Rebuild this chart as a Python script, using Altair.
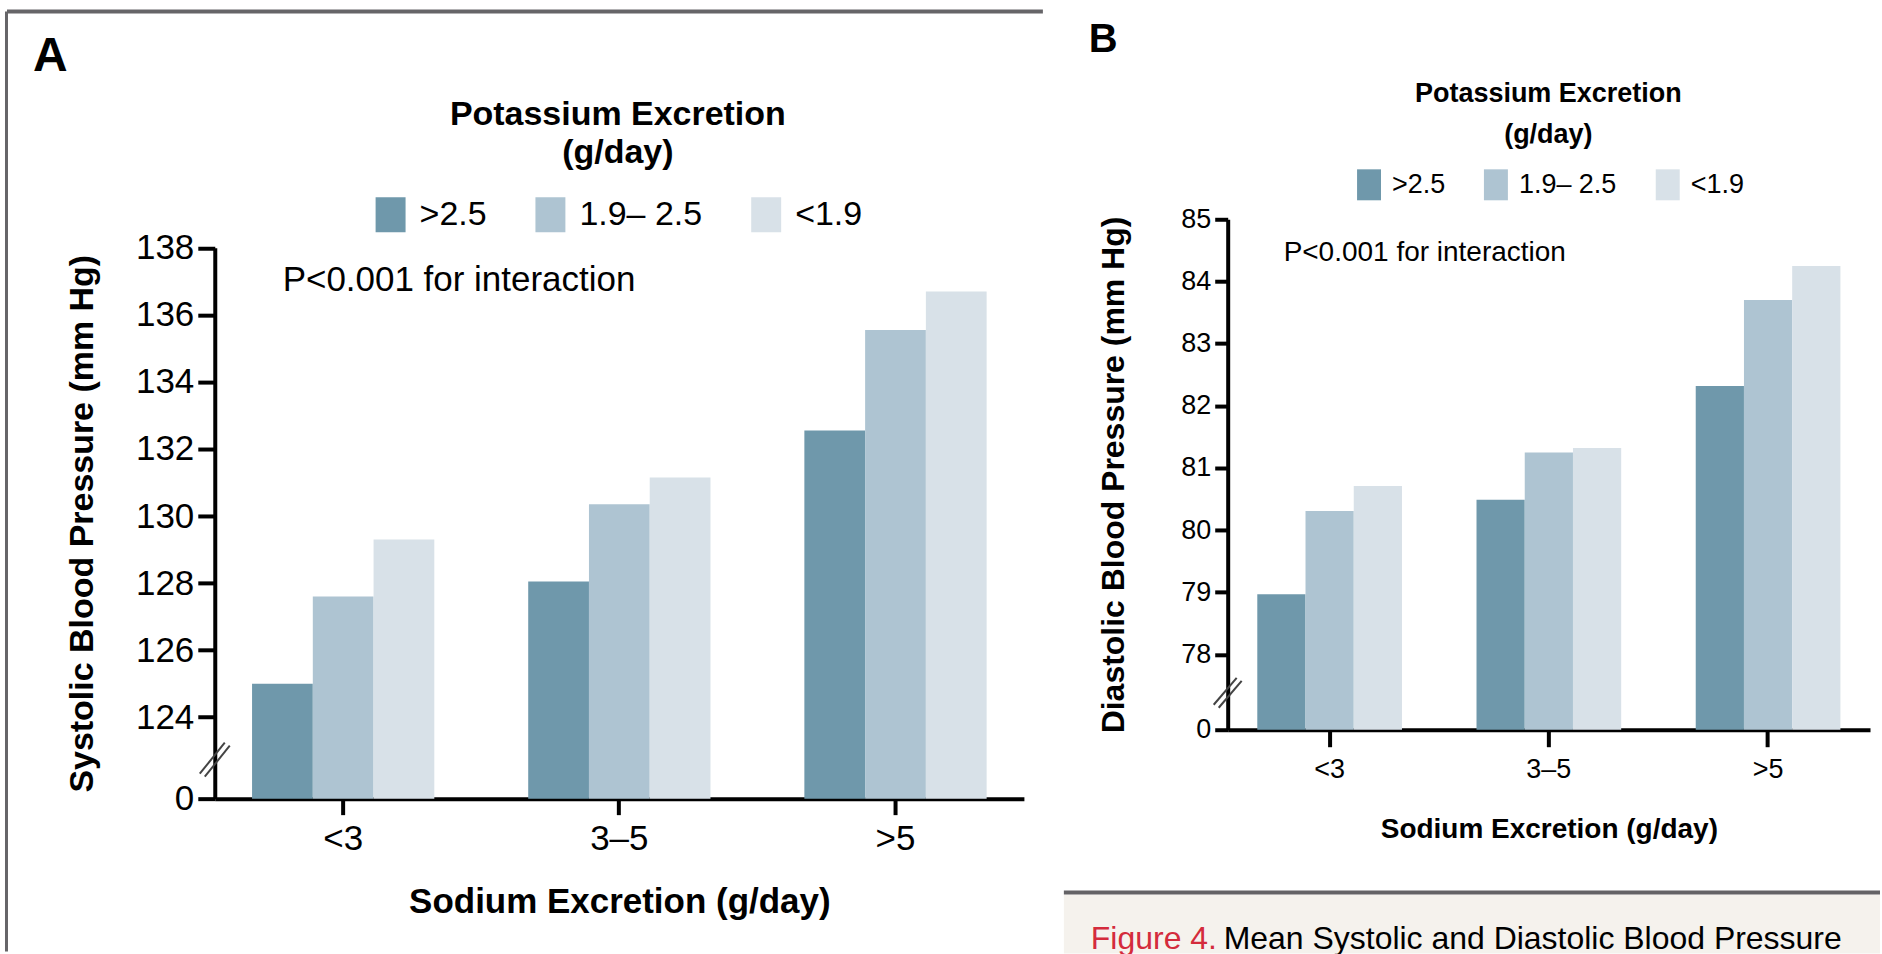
import altair as alt
import pandas as pd

# ---------------- data ----------------
sodium_groups = ["<3", "3–5", ">5"]
potassium_groups = [">2.5", "1.9– 2.5", "<1.9"]

# systolic blood pressure (mm Hg), one list per potassium group, across sodium groups
systolic_k_high = [125.0, 128.05, 132.55]
systolic_k_mid = [127.6, 130.35, 135.55]
systolic_k_low = [129.3, 131.15, 136.7]

# diastolic blood pressure (mm Hg)
diastolic_k_high = [78.97, 80.49, 82.32]
diastolic_k_mid = [80.31, 81.25, 83.70]
diastolic_k_low = [80.71, 81.32, 84.25]

systolic_ticks = [124, 126, 128, 130, 132, 134, 136, 138]
diastolic_ticks = [78, 79, 80, 81, 82, 83, 84, 85]
# value at which the broken axis shows "0"
systolic_break = 121.57
diastolic_break = 76.79

annotation = "P<0.001 for interaction"
caption_red = "Figure 4."
caption_black = "Mean Systolic and Diastolic Blood Pressure"

# ---------------- styles ----------------
FONT = "Liberation Sans"
bar_colors = ["#6f98ab", "#aec4d2", "#d8e1e8"]
frame_gray = "#666568"


def make_df(k_high, k_mid, k_low):
    rows = []
    for j, series in enumerate([k_high, k_mid, k_low]):
        for i, s in enumerate(sodium_groups):
            rows.append({"sodium": s, "potassium": potassium_groups[j], "value": series[i]})
    return pd.DataFrame(rows)


one = pd.DataFrame({"t": [""]})


def text_layer(txt, x, y, size, weight="normal", color="black", align="left"):
    return alt.Chart(pd.DataFrame({"t": [txt]})).mark_text(
        align=align, baseline="alphabetic", font=FONT, fontSize=size,
        fontWeight=weight, color=color
    ).encode(x=alt.value(x), y=alt.value(y), text="t:N")


def rule_layer(x, x2, y, y2, width, color):
    return alt.Chart(one).mark_rule(strokeWidth=width, color=color).encode(
        x=alt.value(x), x2=alt.value(x2), y=alt.value(y), y2=alt.value(y2)
    )


def panel(df, p):
    brk = p["brk"]
    yaxis = alt.Axis(
        values=[brk] + p["ticks"],
        labelExpr=f"datum.value < {brk + 0.5} ? '0' : datum.label",
        title=p["ytitle"], titleAngle=270, titleX=p["ytitleX"], titleY=p["ytitleY"],
        titleAlign="center", titleBaseline="alphabetic", titleFont=FONT,
        titleFontSize=p["ytitle_fs"], titleFontWeight="bold", titleColor="black",
        labelFont=FONT, labelFontSize=p["label_fs"], labelColor="black",
        labelPadding=4, labelFlush=False, labelOverlap=False,
        tickSize=p["ytick"], tickWidth=4, tickColor="black",
        domainColor="black", domainWidth=4, grid=False,
    )
    xaxis = alt.Axis(
        title="Sodium Excretion (g/day)", labelAngle=0,
        titleY=p["xtitleY"], titleBaseline="alphabetic", titleFont=FONT,
        titleFontSize=p["xtitle_fs"], titleFontWeight="bold", titleColor="black",
        labelFont=FONT, labelFontSize=p["label_fs"], labelColor="black",
        labelPadding=p["xpad"], tickSize=p["xtick"], tickWidth=4, tickColor="black",
        domainColor="black", domainWidth=4, grid=False,
    )
    legend = alt.Legend(
        title=["Potassium Excretion", "(g/day)"], orient="none",
        legendX=p["legX"], legendY=p["legY"], direction="horizontal",
        symbolType=p["sym"], symbolSize=p["symsize"], symbolStrokeWidth=0,
        symbolOpacity=1, labelFont=FONT, labelFontSize=p["leg_fs"],
        labelColor="black", labelOffset=p["labOff"], columnPadding=p["colPad"],
        labelLimit=400, titleLimit=900,
        titleFont=FONT, titleFontSize=p["legtitle_fs"], titleFontWeight="bold",
        titleColor="black", titleAnchor="middle", titleAlign="center",
        titleLineHeight=p["lh"], titlePadding=p["titlePad"], padding=0,
    )
    bars = alt.Chart(df).mark_bar().encode(
        x=alt.X("sodium:N", sort=sodium_groups,
                scale=alt.Scale(paddingInner=0.34, paddingOuter=0.135), axis=xaxis),
        xOffset=alt.XOffset("potassium:N", sort=potassium_groups,
                            scale=alt.Scale(paddingInner=0, paddingOuter=0)),
        y=alt.Y("value:Q", axis=yaxis,
                scale=alt.Scale(domain=[brk, p["ticks"][-1]], range=[p["H"], p["rtop"]],
                                nice=False, zero=False)),
        y2=alt.datum(brk),
        color=alt.Color("potassium:N", sort=potassium_groups, legend=legend,
                        scale=alt.Scale(domain=potassium_groups, range=bar_colors)),
    )
    bx = p["brkmark"]
    layers = [bars,
              text_layer(annotation, p["annX"], p["annY"], p["ann_fs"]),
              rule_layer(bx[0], bx[1], bx[2], bx[3], 2, "#444444"),
              rule_layer(bx[0] + 5, bx[1] + 5, bx[2] + 3, bx[3] + 3, 2, "#444444")]
    return layers


pA = dict(brk=systolic_break, ticks=systolic_ticks, ytitle="Systolic Blood Pressure (mm Hg)",
          W=810, H=580, rtop=28.6, label_fs=35, ytitle_fs=34, xtitle_fs=35,
          ytick=17, xtick=16, xpad=7, ytitleX=-122, ytitleY=304.3, xtitleY=114,
          annX=68, annY=72, ann_fs=35,
          legX=158.5, legY=-121, sym="M-0.857,-1H0.857V1H-0.857Z", symsize=1225,
          leg_fs=34, labOff=11.5, colPad=46, legtitle_fs=34, lh=38, titlePad=27,
          brkmark=[-15, 10, 555, 524])
pB = dict(brk=diastolic_break, ticks=diastolic_ticks, ytitle="Diastolic Blood Pressure (mm Hg)",
          W=643, H=511, rtop=0, label_fs=27, ytitle_fs=32, xtitle_fs=28,
          ytick=13, xtick=17, xpad=10, ytitleX=-104, ytitleY=255.5, xtitleY=108,
          annX=56, annY=41.7, ann_fs=28,
          legX=126, legY=-138, sym="M-0.774,-1H0.774V1H-0.774Z", symsize=961,
          leg_fs=27, labOff=7.5, colPad=35, legtitle_fs=27, lh=41, titlePad=20,
          brkmark=[-14, 9, 486, 459])

dfA = make_df(systolic_k_high, systolic_k_mid, systolic_k_low)
dfB = make_df(diastolic_k_high, diastolic_k_mid, diastolic_k_low)

# panel A: origin of plot area at (215, 219) on the page
layersA = panel(dfA, pA) + [
    text_layer("A", -182, -148, 48, weight="bold"),
    rule_layer(-208, 829, -208, -208, 4, frame_gray),
    rule_layer(-208.5, -208.5, -208, 733, 3, frame_gray),
]
chartA = alt.layer(*layersA).properties(width=pA["W"], height=pA["H"])

# panel B: origin of plot area at (1229, 219) on the page
caption_rect = alt.Chart(one).mark_rect(color="#f5f2ed").encode(
    x=alt.value(-164), x2=alt.value(653), y=alt.value(676), y2=alt.value(735))
layersB = panel(dfB, pB) + [
    text_layer("B", -139, -167, 40, weight="bold"),
    caption_rect,
    rule_layer(-164, 653, 674, 674, 4, "#646366"),
    text_layer(caption_red, -137, 731, 32, color="#d42b3c"),
    text_layer(caption_black, -4, 731, 32),
]
chartB = alt.layer(*layersB).properties(width=pB["W"], height=pB["H"])

chart = alt.hconcat(chartA, chartB, spacing=204, bounds="flush").resolve_scale(
    color="independent", xOffset="independent", x="independent", y="independent"
).resolve_legend(color="independent").properties(
    padding={"left": 5, "top": 9, "right": 0, "bottom": 0}
).configure(font=FONT).configure_view(stroke="transparent", strokeWidth=0)

chart.save("out.html", embed_options={"renderer": "svg", "actions": False})
